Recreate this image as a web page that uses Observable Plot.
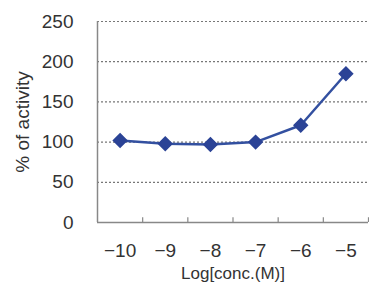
<!DOCTYPE html>
<html><head><meta charset="utf-8">
<script src="https://cdn.jsdelivr.net/npm/d3@7"></script>
<script src="https://cdn.jsdelivr.net/npm/@observablehq/plot@0.6"></script>
<style>
body{margin:0;background:#fff;}
svg{font-family:"Liberation Sans",Arial,sans-serif;}
</style></head><body>
<div id="chart"></div>
<script>
const logConc = [-10, -9, -8, -7, -6, -5];
const activity = [102, 98, 97, 100, 121, 185];
const yTicks = [0, 50, 100, 150, 200, 250];
const gridTicks = [50, 100, 150, 200, 250];
const boundaries = [-10.5, -9.5, -8.5, -7.5, -6.5, -5.5, -4.5];

const data = logConc.map((x, i) => ({x, y: activity[i]}));

const chart = Plot.plot({
  width: 369,
  height: 282,
  marginLeft: 97,
  marginRight: 1,
  marginTop: 21,
  marginBottom: 60,
  style: {fontSize: "19px", color: "#333", fontFamily: "Liberation Sans, Arial, sans-serif"},
  x: {domain: [-10.5, -4.5], ticks: logConc, tickFormat: d => "\u2212" + Math.abs(d), tickSize: 0, tickPadding: 21, label: "Log[conc.(M)]", labelAnchor: "center", labelArrow: "none", labelOffset: 56},
  y: {domain: [0, 250], ticks: yTicks, tickSize: 0, tickPadding: 24, label: "% of activity", labelAnchor: "center", labelArrow: "none", labelOffset: 82},
  marks: [
    Plot.ruleY(gridTicks, {stroke: "#777", strokeWidth: 1.2, strokeDasharray: "2,2"}),
    Plot.ruleY([0], {stroke: "#888", strokeWidth: 1.5}),
    Plot.ruleX([-10.5], {stroke: "#888", strokeWidth: 1.5}),
    Plot.ruleX(boundaries.slice(1), {y1: 0, y2: 6, stroke: "#888", strokeWidth: 1.2}),
    Plot.line(data, {x: "x", y: "y", stroke: "#3350A0", strokeWidth: 2.5}),
    Plot.dot(data, {x: "x", y: "y", symbol: "diamond2", r: 6, fill: "#2B4396", stroke: "#2B4396"})
  ]
});
document.getElementById("chart").appendChild(chart);
chart.querySelectorAll('[aria-label="x-axis label"] text').forEach(t => t.setAttribute("font-size", "17px"));
</script>
</body></html>
